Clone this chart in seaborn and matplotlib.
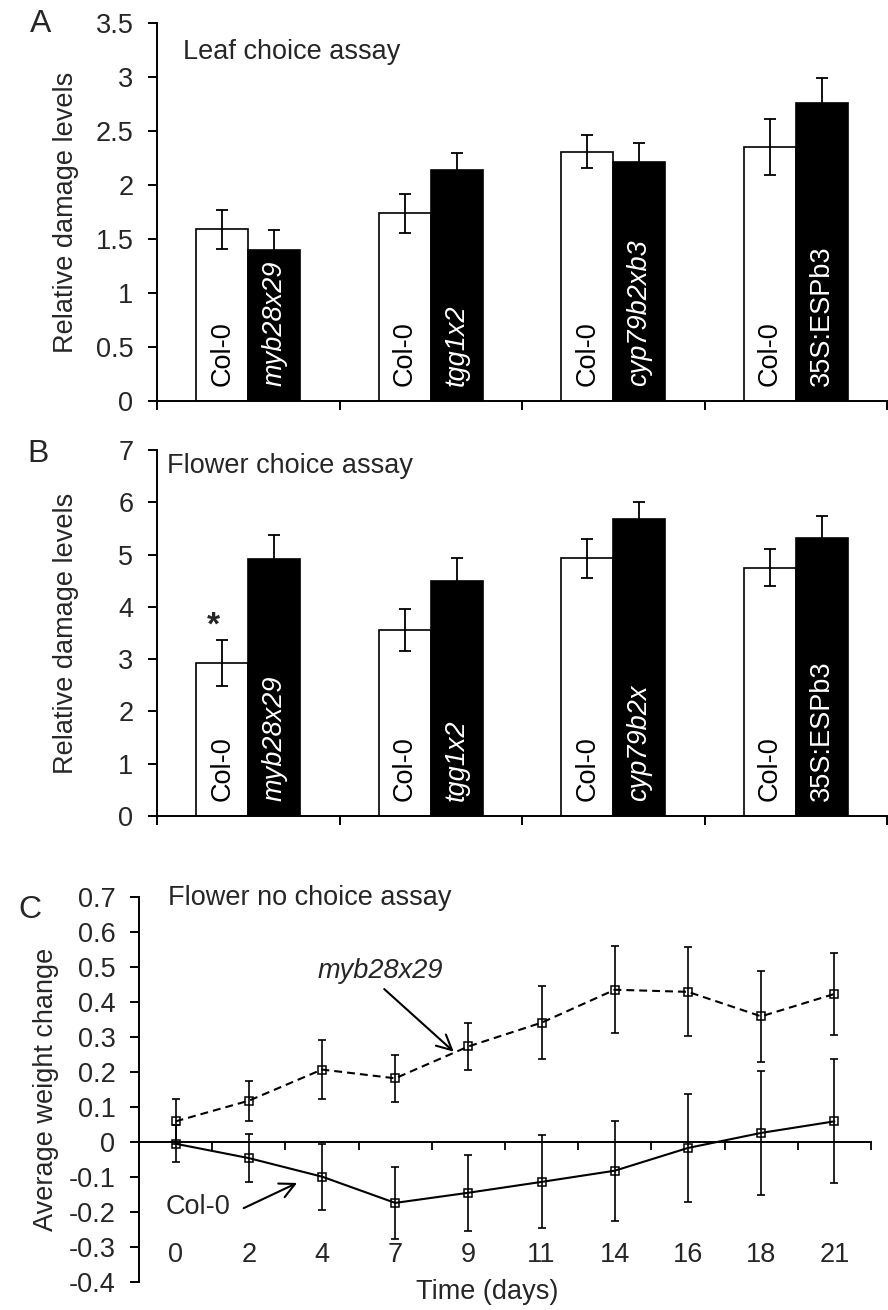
import numpy as np
import pandas as pd
import matplotlib
matplotlib.use("Agg")
import matplotlib.pyplot as plt
import seaborn as sns

# ---------------- data ----------------
groups = ["g1", "g2", "g3", "g4"]

leaf_col0 = [1.59, 1.74, 2.31, 2.35]
leaf_col0_err = [0.18, 0.18, 0.155, 0.26]
leaf_mut = [1.40, 2.14, 2.21, 2.76]
leaf_mut_err = [0.18, 0.16, 0.18, 0.23]
leaf_mut_names = ["myb28x29", "tgg1x2", "cyp79b2xb3", "35S:ESPb3"]

flower_col0 = [2.92, 3.55, 4.93, 4.75]
flower_col0_err = [0.44, 0.40, 0.37, 0.35]
flower_mut = [4.92, 4.50, 5.68, 5.32]
flower_mut_err = [0.45, 0.43, 0.32, 0.42]
flower_mut_names = ["myb28x29", "tgg1x2", "cyp79b2x", "35S:ESPb3"]

mut_italic = [True, True, True, False]

days = ["0", "2", "4", "7", "9", "11", "14", "16", "18", "21"]
col0_wc = [-0.005, -0.046, -0.099, -0.174, -0.145, -0.114, -0.082, -0.017, 0.026, 0.059]
col0_wc_err = [0.053, 0.069, 0.094, 0.104, 0.108, 0.133, 0.143, 0.155, 0.176, 0.177]
myb_wc = [0.059, 0.118, 0.207, 0.182, 0.273, 0.341, 0.435, 0.429, 0.359, 0.423]
myb_wc_err = [0.064, 0.057, 0.085, 0.068, 0.068, 0.105, 0.124, 0.127, 0.130, 0.117]

# ---------------- style ----------------
sns.set_theme(style="white")
plt.rcParams["font.family"] = ["Liberation Sans", "DejaVu Sans"]
plt.rcParams["axes.unicode_minus"] = False
plt.rcParams["lines.dashed_pattern"] = [3.8, 2.4]

FS = 19.5
DPI = 100
fig = plt.figure(figsize=(8.88, 13.1), dpi=DPI)
H = 1310.0
W = 888.0


def axes_px(left, right, top, bottom):
    return fig.add_axes([left / W, 1 - bottom / H, (right - left) / W, (bottom - top) / H])


def fmt(v):
    v = round(v, 2)
    if abs(v) < 1e-9:
        return "0"
    return f"{v:g}"


def style_axes(ax):
    for s in ["top", "right"]:
        ax.spines[s].set_visible(False)
    for s in ["left", "bottom"]:
        ax.spines[s].set_color("black")
        ax.spines[s].set_linewidth(1.4)
    ax.tick_params(axis="y", direction="out", length=6.5, width=1.4, color="black",
                   labelsize=FS, pad=10.5, left=True)
    ax.grid(False)
    ax.set_facecolor("white")


def bar_panel(ax, col0, col0_err, mut, mut_err, names, ymax, step, title, title_xy, ylabel):
    df = pd.DataFrame({
        "group": groups * 2,
        "line": ["Col-0"] * len(groups) + ["mutant"] * len(groups),
        "value": col0 + mut,
    })
    sns.barplot(data=df, x="group", y="value", hue="line", order=groups,
                hue_order=["Col-0", "mutant"],
                palette={"Col-0": "white", "mutant": "black"}, saturation=1,
                edgecolor="black", linewidth=1.2, width=0.572, errorbar=None,
                legend=False, ax=ax)
    patches = sorted(ax.patches, key=lambda p: p.get_x())
    errs = []
    labels = []
    for i in range(len(groups)):
        errs += [col0_err[i], mut_err[i]]
        labels += [("Col-0", "black", "normal"),
                   (names[i], "white", "italic" if mut_italic[i] else "normal")]
    xs = [p.get_x() + p.get_width() / 2 for p in patches]
    hs = [p.get_height() for p in patches]
    ax.errorbar(xs, hs, yerr=errs, fmt="none", ecolor="black", elinewidth=1.3,
                capsize=4, capthick=1.3, zorder=3)
    for x, (txt, c, st) in zip(xs, labels):
        ax.annotate(txt, xy=(x, 0), xytext=(0, 11), textcoords="offset points",
                    rotation=90, ha="center", va="bottom", color=c, fontstyle=st,
                    fontsize=FS, zorder=4)
    style_axes(ax)
    ax.set_xlim(-0.5, len(groups) - 0.5)
    ax.set_ylim(0, ymax)
    yt = np.arange(0, ymax + step / 2, step)
    ax.set_yticks(yt)
    ax.set_yticklabels([fmt(v) for v in yt])
    ax.set_xticks(np.arange(-0.5, len(groups), 1.0))
    ax.set_xticklabels([])
    ax.tick_params(axis="x", direction="out", length=6.5, width=1.4, color="black", bottom=True)
    ax.set_xlabel("")
    ax.set_ylabel(ylabel, fontsize=FS, va="center")
    ax.yaxis.set_label_coords(-0.124, 0.5)
    ax.text(title_xy[0], title_xy[1], title, transform=ax.transAxes, ha="left",
            va="center", fontsize=FS)
    return xs, hs, errs


# ---------------- panel A ----------------
axA = axes_px(157, 887, 23, 401)
bar_panel(axA, leaf_col0, leaf_col0_err, leaf_mut, leaf_mut_err, leaf_mut_names,
          3.5, 0.5, "Leaf choice assay", (0.036, 0.923), "Relative damage levels")

# ---------------- panel B ----------------
axB = axes_px(157, 887, 450, 816)
xsB, hsB, errsB = bar_panel(axB, flower_col0, flower_col0_err, flower_mut, flower_mut_err,
                            flower_mut_names, 7, 1, "Flower choice assay", (0.014, 0.955),
                            "Relative damage levels")
axB.text(xsB[0] - 0.05, 3.64, "*", ha="center", va="center", fontsize=24,
         fontweight="bold")

# ---------------- panel C ----------------
axC = axes_px(139, 871, 897, 1282)
dfc = pd.DataFrame({
    "day": days * 2,
    "value": col0_wc + myb_wc,
    "line": ["Col-0"] * len(days) + ["myb28x29"] * len(days),
})
sns.pointplot(data=dfc, x="day", y="value", hue="line", order=days,
              hue_order=["Col-0", "myb28x29"],
              palette={"Col-0": "black", "myb28x29": "black"},
              markers=["s", "s"], linestyles=["-", "--"], errorbar=None,
              markersize=5.5, linewidth=1.5, markeredgewidth=1.1,
              markerfacecolor="none", legend=False, ax=axC)
lines = axC.lines[:2]
for ln, vals, errs in zip(lines, [col0_wc, myb_wc], [col0_wc_err, myb_wc_err]):
    axC.errorbar(ln.get_xdata(), vals, yerr=errs, fmt="none", ecolor="black",
                 elinewidth=1.2, capsize=3, capthick=1.2, zorder=1)

style_axes(axC)
axC.set_xlim(-0.5, len(days) - 0.5)
axC.set_ylim(-0.4, 0.7)
ytc = np.round(np.arange(-0.4, 0.71, 0.1), 2)
axC.set_yticks(ytc)
axC.set_yticklabels([fmt(v) for v in ytc])
axC.spines["bottom"].set_position(("data", 0))
axC.set_xticks(np.arange(len(days)))
axC.set_xticklabels(days)
axC.set_xticks(np.arange(0.5, len(days), 1.0), minor=True)
axC.tick_params(axis="x", which="major", length=0, pad=72, labelsize=FS)
axC.tick_params(axis="x", which="minor", direction="out", length=6, width=1.3,
                color="black", bottom=True)
axC.set_xlabel("Time (days)", fontsize=FS, va="center")
axC.xaxis.set_label_coords(0.475, -0.027)
axC.set_ylabel("Average weight change", fontsize=FS, va="center")
axC.yaxis.set_label_coords(-0.127, 0.5)
axC.text(0.04, 0.997, "Flower no choice assay", transform=axC.transAxes,
         ha="left", va="center", fontsize=FS)

axC.annotate("", xy=(3.80, 0.258), xytext=(2.85, 0.437),
             arrowprops=dict(arrowstyle="->,head_length=0.9,head_width=0.45",
                             color="black", lw=1.5, shrinkA=0, shrinkB=0))
axC.text(2.8, 0.49, "myb28x29", ha="center", va="center", fontsize=FS,
         fontstyle="italic")
axC.annotate("", xy=(1.66, -0.117), xytext=(0.93, -0.189),
             arrowprops=dict(arrowstyle="->,head_length=0.9,head_width=0.45",
                             color="black", lw=1.5, shrinkA=0, shrinkB=0))
axC.text(0.31, -0.186, "Col-0", ha="center", va="center", fontsize=FS)

# ---------------- panel letters ----------------
fig.text(41 / W, 1 - 24 / H, "A", ha="center", va="center", fontsize=23)
fig.text(38 / W, 1 - 454 / H, "B", ha="center", va="center", fontsize=23)
fig.text(30 / W, 1 - 910 / H, "C", ha="center", va="center", fontsize=23)

fig.savefig("out.png", dpi=DPI, facecolor="white")
